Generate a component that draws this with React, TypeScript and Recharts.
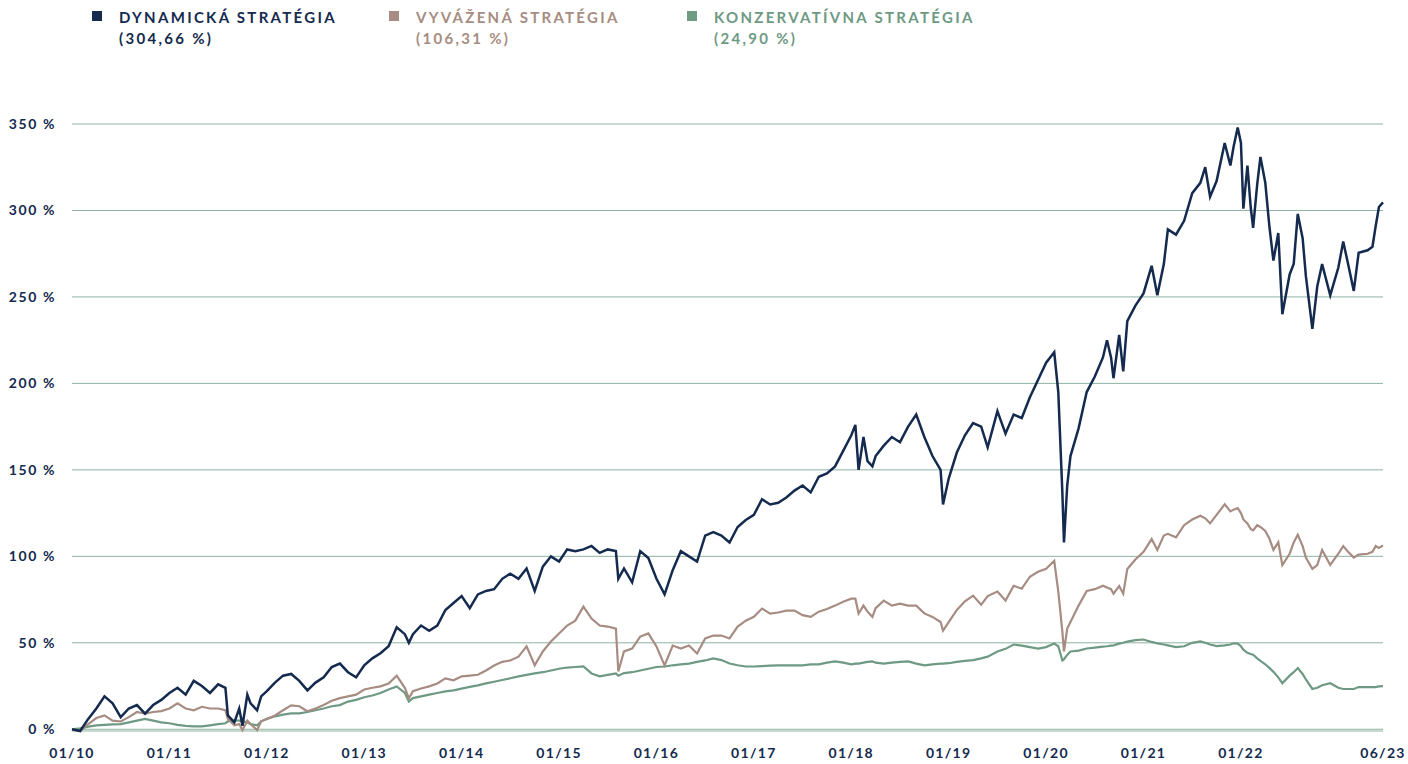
import { LineChart, Line, XAxis, YAxis, CartesianGrid } from 'recharts';

// x = months since 01/2010 (fractional values mark sharp moves inside a month)
const months = [
  0, 1, 2, 3, 4, 5, 6, 7, 8, 9, 10, 11, 12, 13, 14, 15, 16, 17, 18, 18.9, 19.2, 20, 20.6, 21, 21.6, 22, 22.8, 23.3,
  24, 25, 26, 27, 28, 29, 30, 31, 32, 33, 34, 35, 36, 37, 38, 39, 40, 41, 41.5, 42, 43, 44, 45, 46, 47, 48, 49,
  50, 51, 52, 53, 54, 55, 56, 57, 58, 59, 60, 61, 62, 63, 64, 65, 66, 67, 67.3, 68, 69, 70, 71, 72, 73, 74, 75,
  76, 77, 78, 79, 80, 81, 82, 83, 84, 85, 86, 87, 88, 89, 90, 91, 92, 93, 94, 95, 96, 96.5, 96.9, 97.5, 98, 98.6,
  99, 100, 101, 102, 103, 104, 105, 106, 107, 107.3, 108, 109, 110, 111, 112, 112.8, 114, 115, 116, 117, 118, 119,
  120, 121, 121.5, 122, 122.2, 122.6, 123, 124, 125, 126, 127, 127.5, 128, 128.3, 129, 129.5, 130, 131, 132, 133,
  133.7, 134.5, 135, 136, 137, 138, 139, 139.6, 140.2, 141, 142, 142.7, 143.1, 143.6, 144, 144.3, 144.8, 145.2,
  145.5, 146, 146.4, 147, 147.5, 148, 148.6, 149.1, 150, 150.5, 151, 151.6, 152, 152.8, 153.4, 154, 155, 156,
  156.6, 157.2, 157.9, 158.5, 159.6, 160.2, 160.6, 161, 161.5,
];

const dynamic = [
  0, -1, 6, 12, 19, 15, 7, 12, 14, 9, 14, 17, 21, 24, 20, 28, 25, 21, 26, 24, 8, 4, 12, 2, 20, 15, 11, 19,
  22, 27, 31, 32, 28, 22.5, 27, 30, 36, 38, 33, 30, 37, 41, 44, 48, 59, 55, 50, 55, 60, 57, 60, 69, 73, 77, 70,
  78, 80, 81, 87, 90, 87, 93, 80, 94, 100, 97, 104, 103, 104, 106, 102, 104, 103, 87, 93, 85, 103, 99, 87, 78, 92, 103,
  100, 97, 112, 114, 112, 108, 117, 121, 124, 133, 130, 131, 134, 138, 141, 137, 146, 148, 152, 161, 170, 176, 150, 169, 155, 152,
  158, 164, 169, 166, 175, 182, 169, 158, 150, 130, 145, 160, 170, 177, 175, 163, 184, 171, 182, 180, 192, 202,
  212, 218, 195, 137, 108, 141, 158, 174, 195, 204, 215, 225, 215, 203, 228, 207, 236, 245, 252, 268,
  251, 269, 289, 286, 294, 310, 316, 325, 308, 317, 339, 326, 337, 348, 339, 301, 326, 302,
  290, 315, 331, 316, 291, 271, 287, 240, 263, 269, 298, 284, 262, 231.5, 256, 269, 251, 267,
  282, 269, 253.5, 275.5, 277, 279, 291, 302, 304.66,
];

const balanced = [
  0, -1, 3, 6.5, 8, 5, 4.5, 7, 10, 9, 10, 10.5, 12, 15, 12, 11, 13, 12, 12, 11, 6, 2.3, 3, -0.5, 5, 3, -0.5, 4.6,
  6, 8, 11, 13.8, 13.3, 10.4, 12, 14, 16.5, 18, 19, 20, 23, 24, 24.8, 26.5, 31, 24, 17.9, 22, 23.6, 24.8, 26.5, 29.4, 28.3, 30.6, 31,
  31.5, 34, 36.9, 39, 39.8, 42, 47.9, 37, 45, 50.7, 55.4, 60, 62.8, 70.9, 64, 60, 59.4, 58.2, 33.4, 45, 46.7, 53.6, 55.4, 47.9, 36.9, 48.4, 46.7,
  48.4, 43.8, 52.5, 54.2, 54.2, 52.5, 59.4, 62.8, 65, 69.8, 66.9, 67.5, 68.6, 68.6, 66, 65, 68, 69.5, 71.5, 73.8, 75.5, 75.5, 66.9, 71.5, 68, 65,
  70, 74.4, 71.5, 72.6, 71.5, 71.5, 67, 65, 62, 57, 62, 69, 74, 77.3, 72, 77, 79.6, 74.4, 83, 81.3, 88.2, 91.1,
  92.8, 97.4, 79.6, 56.5, 45, 58.2, 62, 71.5, 80, 81, 83, 82, 81, 78.4, 82.8, 78.4, 92.7, 98.2, 102.6, 110,
  103.7, 112, 113, 111, 118, 121.3, 123.5, 122, 119.1, 124, 130.1, 126, 127, 127.9, 125, 121.3, 119, 115.8,
  115, 118, 117, 114.7, 110.3, 103.7, 108.1, 94.9, 101.5, 108, 112.5, 105.9, 99.3, 92.7, 94.9, 103.7, 95, 101.5,
  105.9, 102.6, 99.3, 101, 101.5, 102.6, 105.9, 104.8, 106.31,
];

const conservative = [
  0, 0.5, 1.5, 2.3, 2.5, 2.8, 3, 4, 5, 6, 5, 4, 3.5, 2.5, 2, 1.7, 1.7, 2.3, 3, 3.5, 4.6, 5.2, 5, 4.6, 4, 3, 2.3, 4.6,
  6, 7.5, 8.5, 9.2, 9.2, 10, 11, 12, 13.3, 14, 16, 17, 18.5, 19.5, 21, 23, 24.8, 21, 16.1, 18, 19, 20, 21, 21.9, 22.5, 23.5, 24.5,
  25.4, 26.5, 27.5, 28.5, 29.5, 30.6, 31.5, 32.3, 33, 34, 35, 35.7, 36, 36.3, 32.3, 30.6, 31.5, 32.3, 31, 32.5, 33, 34, 35, 36, 36.3, 37, 37.5,
  38, 39, 39.8, 41, 40, 38, 37, 36.3, 36.3, 36.5, 36.8, 36.9, 36.9, 37, 37, 37.5, 37.5, 38.5, 39.2, 38.5, 37.5, 38, 38, 38.5, 39, 39.2,
  38.5, 38, 38.5, 39, 39.2, 38, 37, 37.5, 38, 38, 38.2, 39, 39.6, 40, 41, 42, 45, 46.5, 49, 48.4, 47.5, 46.7,
  47.5, 49.6, 48, 39.8, 40.5, 43, 45, 45.5, 46.7, 47.2, 47.8, 48, 48.4, 48.5, 49.5, 50, 50.7, 51.5, 51.9, 50.5,
  49.7, 49, 48.5, 47.5, 48, 50, 50.8, 50, 49, 48.1, 48.5, 49, 49.7, 49.5, 48, 46, 44.2, 43.5,
  43.1, 41, 39.5, 37.6, 35.5, 33.2, 30, 26.6, 31, 33, 35.4, 32, 28.8, 23.3, 24, 25.5, 26.6, 24,
  23.3, 23.3, 23.3, 24.4, 24.4, 24.4, 24.4, 24.8, 24.9,
];

const xTicks = [0, 12, 24, 36, 48, 60, 72, 84, 96, 108, 120, 132, 144, 161.5];
const xTickLabels = ['01/10', '01/11', '01/12', '01/13', '01/14', '01/15', '01/16', '01/17', '01/18', '01/19', '01/20', '01/21', '01/22', '06/23'];
const yTicks = [0, 50, 100, 150, 200, 250, 300, 350];

const seriesNames = ['DYNAMICKÁ STRATÉGIA', 'VYVÁŽENÁ STRATÉGIA', 'KONZERVATÍVNA STRATÉGIA'];
const seriesTotals = ['(304,66 %)', '(106,31 %)', '(24,90 %)'];

const NAVY = '#142a4e';
const TAUPE = '#a68c82';
const SAGE = '#6e9983';
const GRID = '#8fb3a2';
const FONT = 'Lato, "Open Sans", sans-serif';

const colors = [NAVY, TAUPE, SAGE];
const legendX = [92, 389, 687];

const rows = months.map((m, i) => ({
  m,
  d: dynamic[i],
  b: balanced[i],
  c: conservative[i],
}));

const XTick = (props: any) => {
  const { x, y, payload } = props;
  const idx = xTicks.indexOf(payload.value);
  return (
    <text x={x} y={y + 19} textAnchor="middle" fill={NAVY} fontFamily={FONT} fontWeight={700} fontSize={14} letterSpacing={1.3}>
      {xTickLabels[idx]}
    </text>
  );
};

const YTick = (props: any) => {
  const { y, payload } = props;
  return (
    <text x={56} y={y} dy={5} textAnchor="end" fill={NAVY} fontFamily={FONT} fontWeight={700} fontSize={14} letterSpacing={1.6}>
      {`${payload.value} %`}
    </text>
  );
};

export default function App() {
  return (
    <div style={{ position: 'absolute', left: 0, top: 0, width: 1408, height: 764, background: '#fff', fontFamily: FONT }}>
      {/* legend */}
      {seriesNames.map((name, i) => (
        <div key={name} style={{ position: 'absolute', left: legendX[i], top: 7, color: colors[i] }}>
          <div style={{ position: 'absolute', left: 0, top: 4, width: 10, height: 10, background: colors[i] }} />
          <div style={{ marginLeft: 27, fontSize: 15, fontWeight: 700, letterSpacing: 2.3, lineHeight: '21px', whiteSpace: 'nowrap' }}>
            {name}
            <br />
            {seriesTotals[i]}
          </div>
        </div>
      ))}

      <div style={{ position: 'absolute', left: 0, top: 0 }}>
        <LineChart width={1408} height={764} data={rows} margin={{ top: 124, right: 25, bottom: 0, left: 0 }}>
          <CartesianGrid horizontal vertical={false} stroke={GRID} strokeWidth={1} />
          <XAxis
            dataKey="m"
            type="number"
            domain={[0, 161.5]}
            ticks={xTicks}
            height={33}
            axisLine={false}
            tickLine={false}
            tick={<XTick />}
            interval={0}
          />
          <YAxis
            type="number"
            domain={[0, 350]}
            ticks={yTicks}
            width={72}
            axisLine={false}
            tickLine={false}
            tick={<YTick />}
            interval={0}
          />
          <Line type="linear" dataKey="c" stroke={SAGE} strokeWidth={2.2} dot={false} isAnimationActive={false} />
          <Line type="linear" dataKey="b" stroke={TAUPE} strokeWidth={2.2} dot={false} isAnimationActive={false} />
          <Line type="linear" dataKey="d" stroke={NAVY} strokeWidth={2.5} dot={false} isAnimationActive={false} />
        </LineChart>
      </div>
    </div>
  );
}
